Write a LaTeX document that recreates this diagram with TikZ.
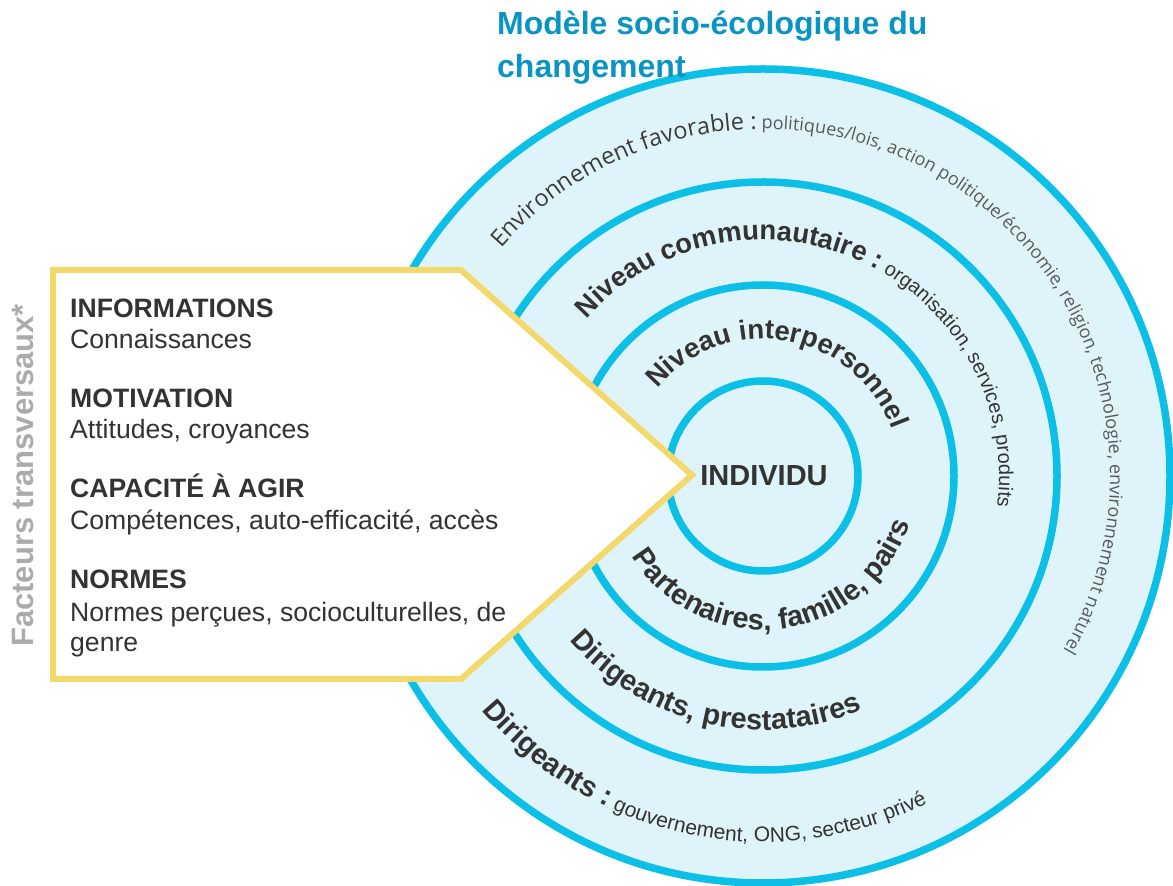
\documentclass[tikz,border=0pt]{standalone}
\usepackage{fontspec}
\setmainfont{Liberation Sans}
\newfontfamily\envfont{Open Sans}
\usetikzlibrary{decorations.text}
\definecolor{ring}{HTML}{0BBFE6}
\definecolor{ringfill}{HTML}{DFF4FA}
\definecolor{boxline}{HTML}{F3D86C}
\definecolor{txt}{HTML}{333333}
\definecolor{titleblue}{HTML}{0A94C4}
\definecolor{sidegray}{HTML}{ABABAB}
\definecolor{envdark}{HTML}{3C3C3C}
\definecolor{envgray}{HTML}{5A5A5A}
\newcommand\fsz[1]{\fontsize{#1}{#1}\selectfont}
\newcommand\lblbold{\fsz{27.5}\bfseries\color{txt}}
\newcommand\lblboldb{\fsz{29}\bfseries\color{txt}}
\newcommand\lblsmall{\fsz{20}\mdseries\color{txt}}
\newcommand\lblsmallb{\fsz{21}\mdseries\color{txt}}
\newcommand\envbig{\envfont\fsz{23.5}\color{envdark}}
\newcommand\envsmall{\envfont\fsz{18}\color{envgray}}
\begin{document}
\begin{tikzpicture}[x=1pt,y=1pt,
  ringline/.style={draw=ring, line width=7.5pt},
  boxtxt/.style={anchor=base west, inner sep=0pt, text=txt, font=\fsz{26.6}},
  boxhead/.style={anchor=base west, inner sep=0pt, text=txt, font=\fsz{26.6}\bfseries},
  arclabel/.style={decorate, decoration={text along path, text align=left, text={#1}}}
]
\useasboundingbox (0,0) rectangle (1173,886);
\coordinate (C) at (763,410);
% rings
\fill[ringfill] (C) circle[radius=407];
\draw[ringline] (C) circle[radius=407];
\draw[ringline] (C) circle[radius=294];
\draw[ringline] (C) circle[radius=191];
\draw[ringline] (C) circle[radius=95];
% yellow box
\coordinate (b1) at (53,616);
\coordinate (b2) at (461,616);
\coordinate (b3) at (692,411);
\coordinate (b4) at (461,207);
\coordinate (b5) at (53,207);
\draw[draw=boxline, line width=6pt, fill=white, line join=miter] (b1) -- (b2) -- (b3) -- (b4) -- (b5) -- cycle;
% box texts
\node[boxhead] (h1) at (70,568) {INFORMATIONS};
\node[boxtxt]  (t1) at (70,537) {Connaissances};
\node[boxhead] (h2) at (70,478) {MOTIVATION};
\node[boxtxt]  (t2) at (70,447) {Attitudes, croyances};
\node[boxhead] (h3) at (70,388) {CAPACITÉ À AGIR};
\node[boxtxt]  (t3) at (70,356) {Compétences, auto-efficacité, accès};
\node[boxhead] (h4) at (70,297) {NORMES};
\node[boxtxt]  (t4) at (70,264) {Normes perçues, socioculturelles, de};
\node[boxtxt]  (t5) at (70,234) {genre};
% side label
\node[anchor=base west, rotate=90, inner sep=0pt, font=\fsz{31}\bfseries, text=sidegray] (side) at (34,239) {Facteurs transversaux*};
% centre
\node[inner sep=0pt, font=\fsz{29}\bfseries, text=txt] (indiv) at (764,410.5) {INDIVIDU};
% curved labels (top, clockwise)
\path[shift={(C)}, arclabel={|\envbig|Environnement favorable :|\envsmall| politiques/lois, action politique/économie, religion, technologie, environnement naturel}]
  (139:347) arc[start angle=139, end angle=-80, radius=347];
\path[shift={(C)}, arclabel={|\lblbold|Niveau communautaire :|\lblsmall| organisation, services, produits}]
  (138.4:236) arc[start angle=138.4, end angle=-60, radius=236];
\path[shift={(C)}, arclabel={|\lblbold|Niveau interpersonnel}]
  (140.5:137) arc[start angle=140.5, end angle=-40, radius=137];
% curved labels (bottom, counter-clockwise)
\path[shift={(C)}, arclabel={|\lblboldb|Partenaires, famille, pairs}]
  (211.4:154) arc[start angle=211.4, end angle=420, radius=154];
\path[shift={(C)}, arclabel={|\lblboldb|Dirigeants, prestataires}]
  (220.3:254) arc[start angle=220.3, end angle=400, radius=254];
\path[shift={(C)}, arclabel={|\lblboldb|Dirigeants :|\lblsmallb| gouvernement, ONG, secteur privé}]
  (219.8:366) arc[start angle=219.8, end angle=400, radius=366];
% title
\node[anchor=base west, inner sep=0pt, font=\fsz{32}\bfseries, text=titleblue] (title1) at (497,851) {Modèle socio-écologique du};
\node[anchor=base west, inner sep=0pt, font=\fsz{32}\bfseries, text=titleblue] (title2) at (497,808) {changement};
\end{tikzpicture}
\end{document}
